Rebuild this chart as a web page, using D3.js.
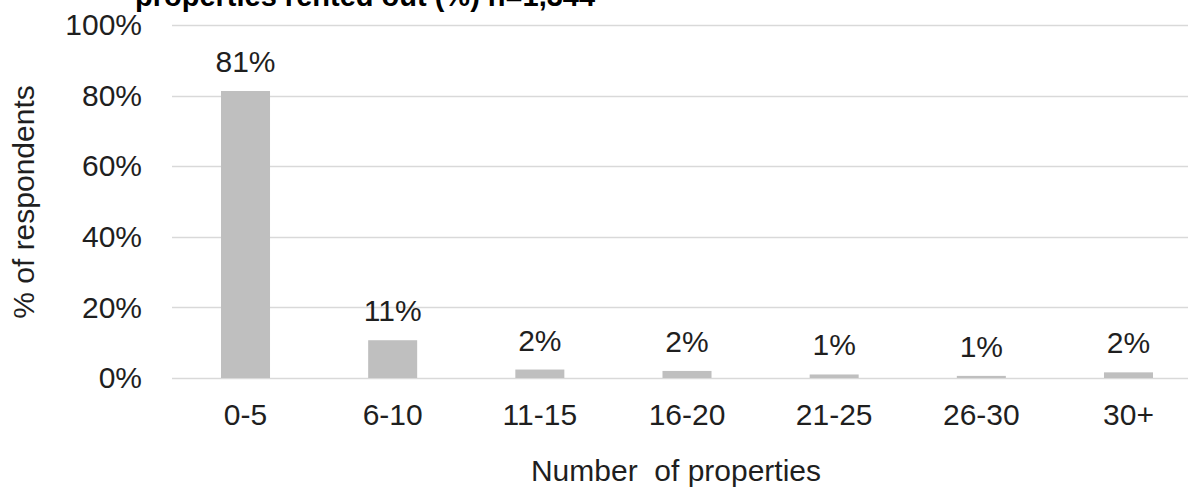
<!DOCTYPE html>
<html>
<head>
<meta charset="utf-8">
<script src="https://cdn.jsdelivr.net/npm/d3@7"></script>
<style>
  html, body { margin: 0; padding: 0; background: #fff; overflow: hidden; }
  svg { display: block; font-family: "Liberation Sans", Arial, sans-serif; }
</style>
</head>
<body>
<script>
// Share of respondents by number of properties rented out
const categories = ["0-5", "6-10", "11-15", "16-20", "21-25", "26-30", "30+"];
const shares = [81.3, 10.7, 2.4, 2.0, 1.0, 0.6, 1.6];
const yTicks = [0, 20, 40, 60, 80, 100];
const titleText = "properties rented out (%) n=1,344";
const xTitle = "Number\u00a0 of properties";
const yTitle = "% of respondents";

const W = 1188, H = 489;
const svg = d3.select("body").append("svg").attr("width", W).attr("height", H);

const x = d3.scaleBand()
  .domain(categories)
  .range([172, 1202])
  .paddingInner(0.667)
  .paddingOuter(0.333);

const y = d3.scaleLinear().domain([0, 100]).range([378, 25]);

const textColor = "#1f1f1f";
const fmt = v => d3.format(".0f")(v) + "%";

// Title (partially above the visible area)
svg.append("text")
  .attr("x", 135).attr("y", 6)
  .attr("font-size", 29).attr("font-weight", "bold")
  .attr("fill", "#000")
  .text(titleText);

// Gridlines
svg.append("g").selectAll("line")
  .data(yTicks)
  .join("line")
  .attr("x1", x.range()[0]).attr("x2", x.range()[1])
  .attr("y1", d => Math.round(y(d)) + 0.5).attr("y2", d => Math.round(y(d)) + 0.5)
  .attr("stroke", "#d9d9d9").attr("stroke-width", 1.5);

// Y axis tick labels
const yAxis = d3.axisLeft(y).tickValues(yTicks).tickFormat(d => d + "%").tickSize(0).tickPadding(0);
svg.append("g")
  .attr("transform", "translate(142,0)")
  .call(yAxis)
  .call(g => g.select(".domain").remove())
  .call(g => g.selectAll("text")
    .attr("font-size", 30)
    .attr("font-family", "Liberation Sans, Arial, sans-serif")
    .attr("fill", textColor));

// Bars
svg.append("g").selectAll("rect")
  .data(categories)
  .join("rect")
  .attr("x", d => x(d))
  .attr("width", x.bandwidth())
  .attr("y", (d, i) => y(shares[i]))
  .attr("height", (d, i) => y(0) - y(shares[i]))
  .attr("fill", "#bfbfbf");

// Value labels
svg.append("g").selectAll("text")
  .data(categories)
  .join("text")
  .attr("x", d => x(d) + x.bandwidth() / 2)
  .attr("y", (d, i) => y(shares[i]) - 19)
  .attr("text-anchor", "middle")
  .attr("font-size", 30)
  .attr("fill", textColor)
  .text((d, i) => fmt(shares[i]));

// X axis category labels
const xAxis = d3.axisBottom(x).tickSize(0).tickPadding(0);
svg.append("g")
  .attr("transform", "translate(0,404)")
  .call(xAxis)
  .call(g => g.select(".domain").remove())
  .call(g => g.selectAll("text")
    .attr("dy", "0.71em")
    .attr("font-size", 30)
    .attr("font-family", "Liberation Sans, Arial, sans-serif")
    .attr("fill", textColor));

// Axis titles
svg.append("text")
  .attr("x", 676).attr("y", 481)
  .attr("text-anchor", "middle")
  .attr("font-size", 30)
  .attr("fill", textColor)
  .text(xTitle);

svg.append("text")
  .attr("transform", "translate(34,202) rotate(-90)")
  .attr("text-anchor", "middle")
  .attr("font-size", 30)
  .attr("fill", textColor)
  .text(yTitle);
</script>
</body>
</html>
